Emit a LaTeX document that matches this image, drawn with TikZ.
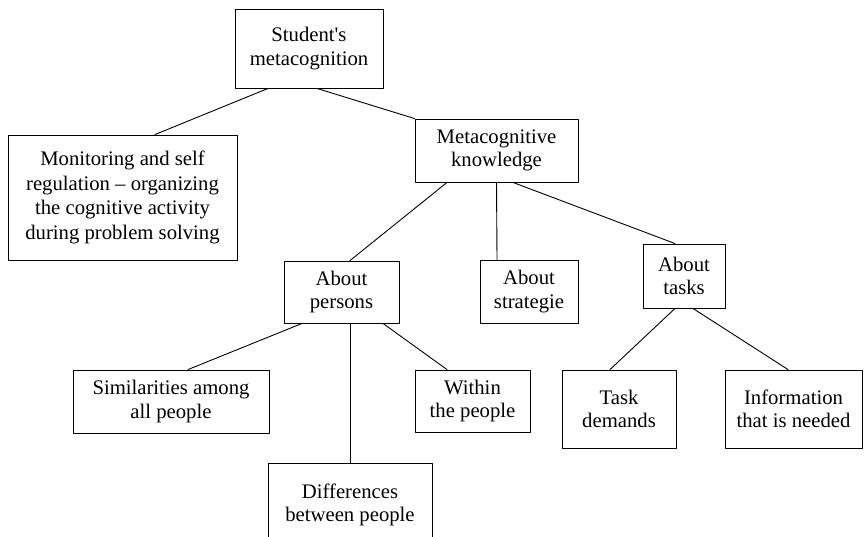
\documentclass[tikz,border=0pt]{standalone}
\usepackage{fontspec}
\setmainfont{Liberation Serif}
\usetikzlibrary{positioning}

\begin{document}
\begin{tikzpicture}[line cap=round,line join=round,x=1pt,y=-1pt,
		mbox/.style={draw,line width=0.9pt,align=center,inner sep=0pt,
			font=\fontsize{20.7}{23.5}\selectfont},
		link/.style={line width=0.9pt}]
	\useasboundingbox (0,0) rectangle (866,537);
	\clip (0,0) rectangle (866,537);
	% boxes
	\node[mbox,minimum width=148pt,minimum height=79pt] (student) at (309,48.5) {Student\textquotesingle s\\metacognition};
	\node[mbox,minimum width=229pt,minimum height=125pt,font=\fontsize{20.7}{24.5}\selectfont] (monitor) at (122.5,197.5) {Monitoring and self\\regulation – organizing\\the cognitive activity\\during problem solving};
	\node[mbox,minimum width=163pt,minimum height=63pt] (meta) at (496.5,150.5) {Metacognitive\\knowledge};
	\node[mbox,minimum width=115pt,minimum height=62pt] (persons) at (341.5,292) {About\\persons};
	\node[mbox,minimum width=98pt,minimum height=63pt] (strat) at (529,291.5) {About\\strategie};
	\node[mbox,minimum width=82pt,minimum height=64pt] (tasks) at (684,276) {About\\tasks};
	\node[mbox,minimum width=196pt,minimum height=63pt] (simil) at (171,401.5) {Similarities among\\all people};
	\node[mbox,minimum width=115pt,minimum height=62pt] (within) at (472.5,401) {Within\\the people};
	\node[mbox,minimum width=164pt,minimum height=84pt] (diff) at (350,505) {Differences\\between people};
	\node[mbox,minimum width=114pt,minimum height=78pt] (taskd) at (619,409) {Task\\demands};
	\node[mbox,minimum width=137pt,minimum height=78pt] (info) at (793.5,409) {Information\\that is needed};
	% links
	\draw[link] ([xshift=-41pt]student.south) -- ([xshift=32.5pt]monitor.north);
	\draw[link] ([xshift=8pt]student.south) -- (meta.north west);
	\draw[link] ([xshift=-49.5pt]meta.south) -- ([xshift=8.5pt]persons.north);
	\draw[link] (meta.south) -- ([xshift=-32pt]strat.north);
	\draw[link] ([xshift=16.5pt]meta.south) -- ([xshift=-9pt]tasks.north);
	\draw[link] ([xshift=-39.5pt]persons.south) -- ([xshift=17pt]simil.north);
	\draw[link] ([xshift=8.5pt]persons.south) -- (diff.north);
	\draw[link] ([xshift=41.5pt]persons.south) -- ([xshift=-25.5pt]within.north);
	\draw[link] ([xshift=-9pt]tasks.south) -- ([xshift=-9pt]taskd.north);
	\draw[link] ([xshift=9pt]tasks.south) -- ([xshift=-5.5pt]info.north);
\end{tikzpicture}
\end{document}
